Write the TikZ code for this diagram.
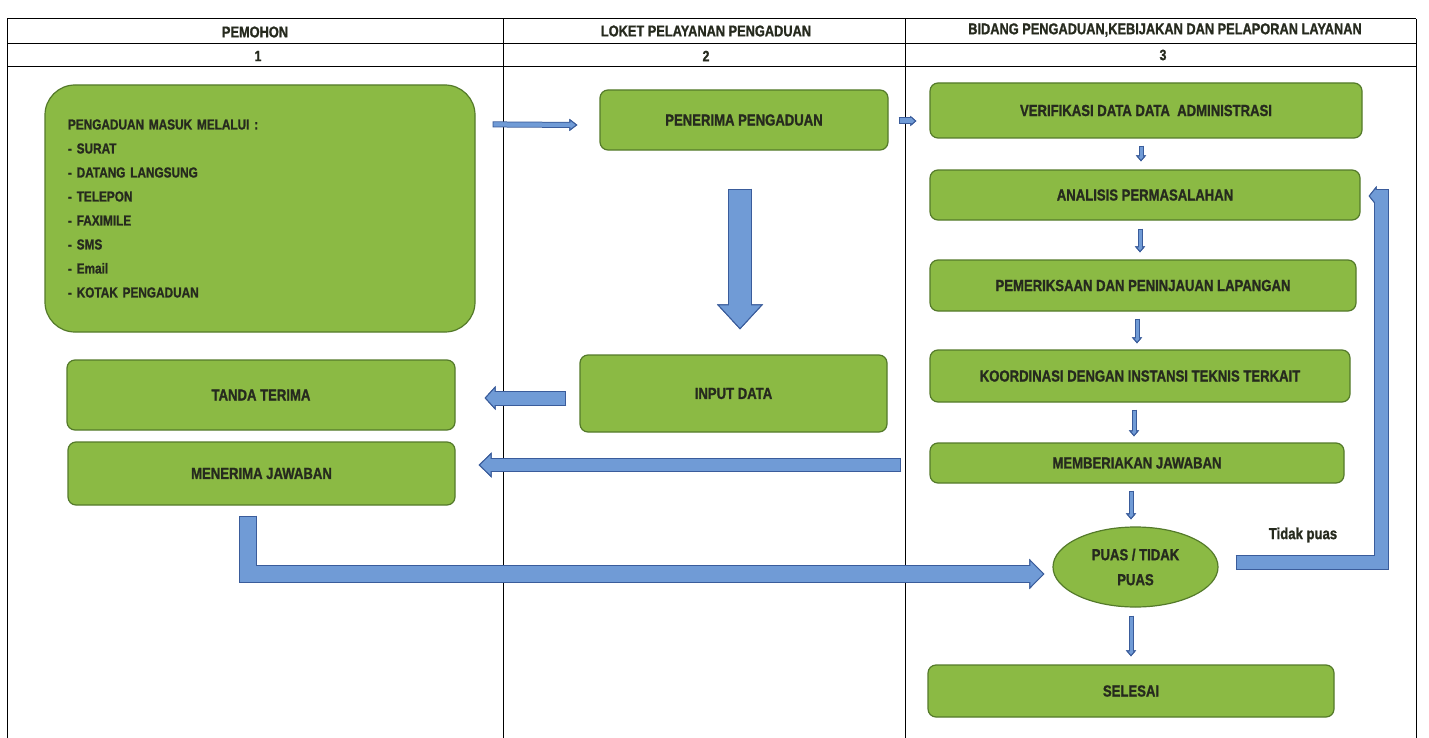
\documentclass[tikz,border=0pt]{standalone}
\usepackage{fontspec}
\setmainfont{Liberation Sans}[FakeStretch=0.82, BoldFeatures={FakeBold=1.2}]
\usetikzlibrary{arrows.meta,calc,shapes.geometric}

\definecolor{boxgreen}{RGB}{139,186,68}
\definecolor{boxedge}{RGB}{84,122,42}
\definecolor{inkdark}{RGB}{38,42,30}
\definecolor{arrowfill}{RGB}{112,155,214}
\definecolor{arrowedge}{RGB}{58,92,155}

\begin{document}
\begin{tikzpicture}[
    x=0.5pt, y=-0.5pt,
    lane/.style={draw=black, line width=0.5pt},
    head/.style={font=\bfseries\fontsize{7.8}{9}\selectfont, text=inkdark},
    num/.style={font=\bfseries\fontsize{7.5}{9}\selectfont, text=inkdark},
    stepbox/.style={draw=boxedge, fill=boxgreen, line width=0.6pt, rounded corners=4pt,
      text=inkdark, font=\bfseries\fontsize{8}{9}\selectfont},
    % block arrow: shaft width, tip length, tip width
    blockarr/.style n args={3}{draw=arrowfill, line width=#1, line join=miter, shorten <=0.5pt,
      -{Triangle[length=#2, width=#3, line width=0.5pt, color=arrowedge, fill=arrowfill]},
      preaction={draw=arrowedge, line width=#1+1pt, shorten <=0pt,
        -{Triangle[length=#2, width=#3, line width=0.5pt, color=arrowedge, fill=arrowfill]}},
      postaction={draw=arrowfill, line width=#1, arrows=-, shorten >=#2-0.8pt}},
    smallarr/.style={blockarr={1.5pt}{3pt}{5pt}}
  ]
    \useasboundingbox (0,0) rectangle (1429,738);

    % lanes
    \draw[lane] (7,19) -- (1416,19);
    \draw[lane] (7,44) -- (1416,44);
    \draw[lane] (7,67) -- (1416,67);
    \draw[lane] (7,19) -- (7,738);
    \draw[lane] (503,19) -- (503,738);
    \draw[lane] (905,19) -- (905,738);
    \draw[lane] (1416,19) -- (1416,738);

    \node[head] (hpemohon) at (255,32) {PEMOHON};
    \node[head] (hloket)   at (706,31) {LOKET PELAYANAN PENGADUAN};
    \node[head] (hbidang)  at (1165,30) {BIDANG PENGADUAN,KEBIJAKAN DAN PELAPORAN LAYANAN};
    \node[num] (n1) at (258,56) {1};
    \node[num] (n2) at (706,56) {2};
    \node[num] (n3) at (1163,55) {3};

    % pemohon
    \node[stepbox, rounded corners=15pt, minimum width=215pt, minimum height=123.5pt,
      text width=192pt, align=left, font=\bfseries\fontsize{7.2}{12}\selectfont] (sumber) at (260,208.5)
      {PENGADUAN MASUK MELALUI :\\- SURAT\\- DATANG LANGSUNG\\- TELEPON\\- FAXIMILE\\- SMS\\- Email\\- KOTAK PENGADUAN};
    \node[stepbox, minimum width=194pt, minimum height=35pt] (tanda) at (261,395) {TANDA TERIMA};
    \node[stepbox, minimum width=193.5pt, minimum height=31.5pt] (jawab) at (261.5,473.5) {MENERIMA JAWABAN};

    % loket
    \node[stepbox, minimum width=144pt, minimum height=30pt] (terima) at (744,120) {PENERIMA PENGADUAN};
    \node[stepbox, minimum width=153.5pt, minimum height=38.5pt] (input) at (733.5,393.5) {INPUT DATA};

    % bidang
    \node[stepbox, minimum width=216pt, minimum height=27.5pt] (verif) at (1146,110.5) {VERIFIKASI DATA DATA \ ADMINISTRASI};
    \node[stepbox, minimum width=215pt, minimum height=25pt] (analisis) at (1145,195) {ANALISIS PERMASALAHAN};
    \node[stepbox, minimum width=213pt, minimum height=25.5pt] (periksa) at (1143,285.5) {PEMERIKSAAN DAN PENINJAUAN LAPANGAN};
    \node[stepbox, minimum width=210pt, minimum height=26pt] (koord) at (1140,376) {KOORDINASI DENGAN INSTANSI TEKNIS TERKAIT};
    \node[stepbox, minimum width=207pt, minimum height=20pt] (beri) at (1137,463) {MEMBERIAKAN JAWABAN};
    \node[stepbox, ellipse, minimum width=82.5pt, minimum height=40pt, inner sep=0pt, align=center,
      font=\bfseries\fontsize{8}{12.5}\selectfont] (puas) at (1135.5,567) {PUAS / TIDAK\\PUAS};
    \node[stepbox, minimum width=203pt, minimum height=26pt] (selesai) at (1131,691) {SELESAI};
    \node[head, font=\bfseries\fontsize{8}{9}\selectfont] (tidak) at (1303,535) {Tidak puas};

    % arrows
    \draw[blockarr={2pt}{4pt}{6pt}] ($(sumber.north east)+(17,40)$) -- ($(terima.west)+(-22,5)$);
    \draw[blockarr={2.5pt}{3pt}{5pt}] ($(terima.east)+(10,1)$) -- ($(verif.west)+(-13,10.5)$);
    \draw[blockarr={11pt}{12.5pt}{23pt}] ($(terima.south)+(-4,38)$) -- ($(input.north)+(6.5,-25)$);
    \draw[blockarr={6.5pt}{5.5pt}{12pt}] ($(input.west)+(-13,4.5)$) -- ($(tanda.east)+(29,3)$);
    \draw[blockarr={6pt}{6.5pt}{12.5pt}] ($(beri.west)+(-28,2)$) -- ($(jawab.east)+(23,-8.5)$);
    \draw[blockarr={8pt}{7.5pt}{15pt}] ($(jawab.south)+(-13.5,10)$) |- ($(puas.west)+(-8,7)$);
    \draw[blockarr={6.5pt}{4pt}{10pt}] ($(puas.east)+(17,-5)$) -| ($(analisis.east)+(21,1)$) -- ($(analisis.east)+(8,1)$);

    \draw[smallarr] ($(verif.south)+(-5,7)$) -- ($(analisis.north)+(-4,-8)$);
    \draw[smallarr] ($(analisis.south)+(-5,8)$) -- ($(periksa.north)+(-3,-7)$);
    \draw[smallarr] ($(periksa.south)+(-6,7)$) -- ($(koord.north)+(-3,-6)$);
    \draw[smallarr] ($(koord.south)+(-6,7)$) -- ($(beri.north)+(-3,-6)$);
    \draw[smallarr] ($(beri.south)+(-6,7)$) -- ($(puas.north)+(-4.5,-7)$);
    \draw[smallarr] ($(puas.south)+(-4.5,8)$) -- ($(selesai.north)+(0,-8)$);
  \end{tikzpicture}
\end{document}
